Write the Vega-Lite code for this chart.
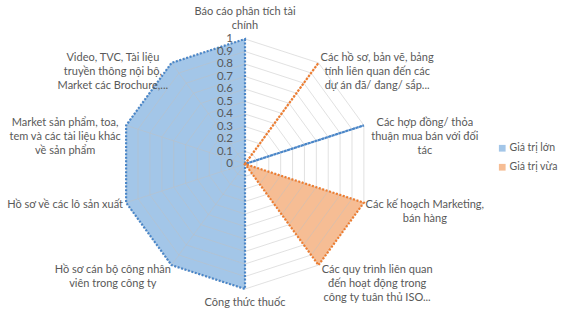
{
  "$schema": "https://vega.github.io/schema/vega-lite/v6.json",
  "width": 563,
  "height": 310,
  "padding": 0,
  "autosize": {"type": "none"},
  "background": "white",
  "config": {"view": {"stroke": null}, "font": "Lato"},
  "datasets": {
    "series": [
      {"series": "Giá trị lớn", "k": 0, "value": 1},
      {"series": "Giá trị lớn", "k": 1, "value": 0},
      {"series": "Giá trị lớn", "k": 2, "value": 1},
      {"series": "Giá trị lớn", "k": 3, "value": 0},
      {"series": "Giá trị lớn", "k": 4, "value": 0},
      {"series": "Giá trị lớn", "k": 5, "value": 1},
      {"series": "Giá trị lớn", "k": 6, "value": 1},
      {"series": "Giá trị lớn", "k": 7, "value": 1},
      {"series": "Giá trị lớn", "k": 8, "value": 1},
      {"series": "Giá trị lớn", "k": 9, "value": 1},
      {"series": "Giá trị vừa", "k": 0, "value": 0},
      {"series": "Giá trị vừa", "k": 1, "value": 1},
      {"series": "Giá trị vừa", "k": 2, "value": 0},
      {"series": "Giá trị vừa", "k": 3, "value": 1},
      {"series": "Giá trị vừa", "k": 4, "value": 1},
      {"series": "Giá trị vừa", "k": 5, "value": 0},
      {"series": "Giá trị vừa", "k": 6, "value": 0},
      {"series": "Giá trị vừa", "k": 7, "value": 0},
      {"series": "Giá trị vừa", "k": 8, "value": 0},
      {"series": "Giá trị vừa", "k": 9, "value": 0}
    ],
    "axes": [
      {"k": 0, "label": "Báo cáo phân tích tài\nchính"},
      {"k": 1, "label": "Các hồ sơ, bản vẽ, bảng\ntính liên quan đến các\ndự án đã/ đang/ sắp..."},
      {"k": 2, "label": "Các hợp đồng/ thỏa\nthuận mua bán với đối\ntác"},
      {"k": 3, "label": "Các kế hoạch Marketing,\nbán hàng"},
      {"k": 4, "label": "Các quy trình liên quan\nđến hoạt động trong\ncông ty tuân thủ ISO..."},
      {"k": 5, "label": "Công thức thuốc"},
      {"k": 6, "label": "Hồ sơ cán bộ công nhân\nviên trong công ty"},
      {"k": 7, "label": "Hồ sơ về các lô sản xuất"},
      {"k": 8, "label": "Market sản phẩm, toa,\ntem và các tài liệu khác\nvề sản phẩm"},
      {"k": 9, "label": "Video, TVC, Tài liệu\ntruyền thông nội bộ,\nMarket các Brochure,..."}
    ],
    "levels": [
      {"level": 0, "k": [0, 1, 2, 3, 4, 5, 6, 7, 8, 9]},
      {"level": 0.1, "k": [0, 1, 2, 3, 4, 5, 6, 7, 8, 9]},
      {"level": 0.2, "k": [0, 1, 2, 3, 4, 5, 6, 7, 8, 9]},
      {"level": 0.3, "k": [0, 1, 2, 3, 4, 5, 6, 7, 8, 9]},
      {"level": 0.4, "k": [0, 1, 2, 3, 4, 5, 6, 7, 8, 9]},
      {"level": 0.5, "k": [0, 1, 2, 3, 4, 5, 6, 7, 8, 9]},
      {"level": 0.6, "k": [0, 1, 2, 3, 4, 5, 6, 7, 8, 9]},
      {"level": 0.7, "k": [0, 1, 2, 3, 4, 5, 6, 7, 8, 9]},
      {"level": 0.8, "k": [0, 1, 2, 3, 4, 5, 6, 7, 8, 9]},
      {"level": 0.9, "k": [0, 1, 2, 3, 4, 5, 6, 7, 8, 9]},
      {"level": 1, "k": [0, 1, 2, 3, 4, 5, 6, 7, 8, 9]}
    ]
  },
  "encoding": {
    "x": {"field": "px", "type": "quantitative", "scale": {"domain": [-1.96, 2.544], "nice": false, "zero": false}, "axis": null},
    "y": {"field": "py", "type": "quantitative", "scale": {"domain": [-1.168, 1.312], "nice": false, "zero": false}, "axis": null}
  },
  "layer": [
    {
      "data": {"name": "series"},
      "transform": [
        {"calculate": "datum.value * sin(datum.k * PI / 5)", "as": "px"},
        {"calculate": "datum.value * cos(datum.k * PI / 5)", "as": "py"}
      ],
      "mark": {"type": "line", "filled": true, "interpolate": "linear-closed", "strokeWidth": 0},
      "encoding": {
        "fill": {
          "field": "series", "type": "nominal",
          "scale": {"domain": ["Giá trị lớn", "Giá trị vừa"], "range": ["#a3c6e8", "#f6bd94"]},
          "legend": {
            "orient": "none", "legendX": 497, "legendY": 143, "title": null,
            "symbolType": "square", "symbolSize": 45, "symbolStrokeWidth": 0,
            "labelFontSize": 10.5, "labelColor": "#595959", "labelFont": "Lato",
            "rowPadding": 8, "labelOffset": 2
          }
        },
        "order": {"field": "k", "type": "quantitative"}
      }
    },
    {
      "data": {"name": "levels"},
      "transform": [
        {"flatten": ["k"]},
        {"calculate": "datum.level * sin(datum.k * PI / 5)", "as": "px"},
        {"calculate": "datum.level * cos(datum.k * PI / 5)", "as": "py"}
      ],
      "mark": {"type": "line", "interpolate": "linear-closed", "stroke": "#bfbfbf", "strokeOpacity": 0.6, "strokeWidth": 0.8},
      "encoding": {
        "detail": {"field": "level", "type": "nominal"},
        "order": {"field": "k", "type": "quantitative"}
      }
    },
    {
      "data": {"name": "axes"},
      "transform": [
        {"calculate": "sin(datum.k * PI / 5)", "as": "px"},
        {"calculate": "cos(datum.k * PI / 5)", "as": "py"}
      ],
      "mark": {"type": "rule", "stroke": "#bfbfbf", "strokeOpacity": 0.6, "strokeWidth": 0.8},
      "encoding": {
        "x2": {"datum": 0},
        "y2": {"datum": 0}
      }
    },
    {
      "data": {"name": "series"},
      "transform": [
        {"calculate": "datum.value * sin(datum.k * PI / 5)", "as": "px"},
        {"calculate": "datum.value * cos(datum.k * PI / 5)", "as": "py"}
      ],
      "mark": {"type": "line", "interpolate": "linear-closed", "strokeWidth": 2.2, "strokeDash": [2, 1.6]},
      "encoding": {
        "stroke": {
          "field": "series", "type": "nominal",
          "scale": {"domain": ["Giá trị lớn", "Giá trị vừa"], "range": ["#4a86c8", "#ed7d31"]},
          "legend": null
        },
        "order": {"field": "k", "type": "quantitative"}
      }
    },
    {
      "data": {"name": "levels"},
      "transform": [
        {"calculate": "0", "as": "px"},
        {"calculate": "datum.level", "as": "py"}
      ],
      "mark": {"type": "text", "align": "right", "baseline": "middle", "dx": -12, "fontSize": 11.5, "color": "#595959"},
      "encoding": {
        "text": {"field": "level", "type": "quantitative", "format": "~g"}
      }
    },
    {
      "data": {"name": "axes"},
      "transform": [
        {"calculate": "1.05 * sin(datum.k * PI / 5) + (abs(sin(datum.k * PI / 5)) > 0.01 ? (sin(datum.k * PI / 5) > 0 ? 0.44 : -0.44) : 0)", "as": "px"},
        {"calculate": "1.05 * cos(datum.k * PI / 5) + (datum.k == 0 ? 0.17 : (datum.k == 5 ? -0.06 : 0))", "as": "py"}
      ],
      "mark": {"type": "text", "align": "center", "baseline": "middle", "lineBreak": "\n", "lineHeight": 14, "fontSize": 11, "color": "#595959"},
      "encoding": {
        "text": {"field": "label", "type": "nominal"}
      }
    }
  ]
}
